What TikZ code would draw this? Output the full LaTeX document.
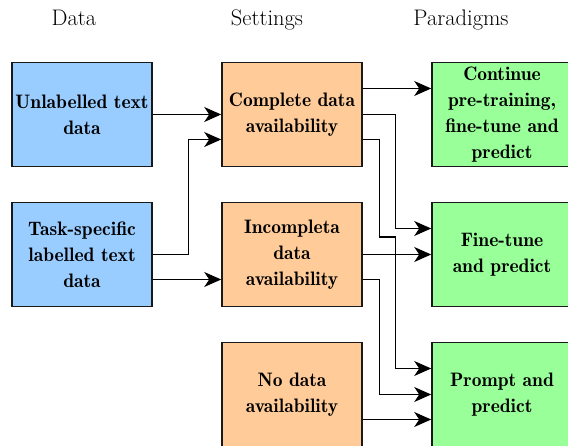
\documentclass[tikz,border=0pt]{standalone}
\usetikzlibrary{arrows.meta,calc}
\definecolor{databox}{RGB}{153,204,255}
\definecolor{setbox}{RGB}{255,204,153}
\definecolor{parbox}{RGB}{153,255,153}
\definecolor{edge}{RGB}{25,25,25}
\tikzset{
  box/.style={draw=edge, line width=1.6pt, minimum width=140pt, minimum height=104pt,
    text width=138pt, align=center, inner sep=0pt,
    font=\fontsize{19.5}{26}\selectfont\fontseries{b}\selectfont},
  datab/.style={box, fill=databox},
  setb/.style={box, fill=setbox},
  parb/.style={box, fill=parbox},
  title/.style={anchor=base, font=\fontsize{22.5}{26}\selectfont},
  arr/.style={line width=1.2pt, -{Stealth[length=17pt,width=15pt,inset=5pt]}},
}
\begin{document}
\begin{tikzpicture}[x=1pt,y=-1pt]
\useasboundingbox (0,0) rectangle (568,446);
% column headings
\node[title] (tdata) at (74,26) {Data};
\node[title] (tset) at (267,26) {Settings};
\node[title] (tpar) at (461,26) {Paradigms};
% data column
\node[datab] (b1) at (82,114.5) {Unlabelled text\\data};
\node[datab] (b2) at (82,254.5) {Task-specific\\labelled text\\data};
% settings column
\node[setb] (o1) at (292,114.5) {Complete data\\availability};
\node[setb] (o2) at (292,254.5) {Incompleta\\data\\availability};
\node[setb] (o3) at (292,394.5) {No data\\availability};
% paradigms column
\node[parb] (g1) at (502,114.5) {Continue\\pre-training,\\fine-tune and\\predict};
\node[parb] (g2) at (502,254.5) {Fine-tune\\and predict};
\node[parb] (g3) at (502,394.5) {Prompt and\\predict};
% data -> settings
\draw[arr] (b1.east) -- (o1.west);
\draw[arr] (b2.east) -- ++(36,0) |- ($(o1.west)+(0,25)$);
\draw[arr] ($(b2.east)+(0,25)$) -- ($(o2.west)+(0,25)$);
% settings -> paradigms
\draw[arr] ($(o1.east)+(0,-26)$) -- ($(g1.west)+(0,-26)$);
\draw[arr] (o1.east) -- ++(33,0) |- ($(g2.west)+(0,-26)$);
\draw[arr] ($(o1.east)+(0,25)$) -- ++(17,0) -- ++(0,97.5) -- ++(16,0) |- ($(g3.west)+(0,-26)$);
\draw[arr] (o2.east) -- (g2.west);
\draw[arr] ($(o2.east)+(0,25)$) -- ++(17,0) |- (g3.west);
\draw[arr] ($(o3.east)+(0,25)$) -- ($(g3.west)+(0,25)$);
\end{tikzpicture}
\end{document}
